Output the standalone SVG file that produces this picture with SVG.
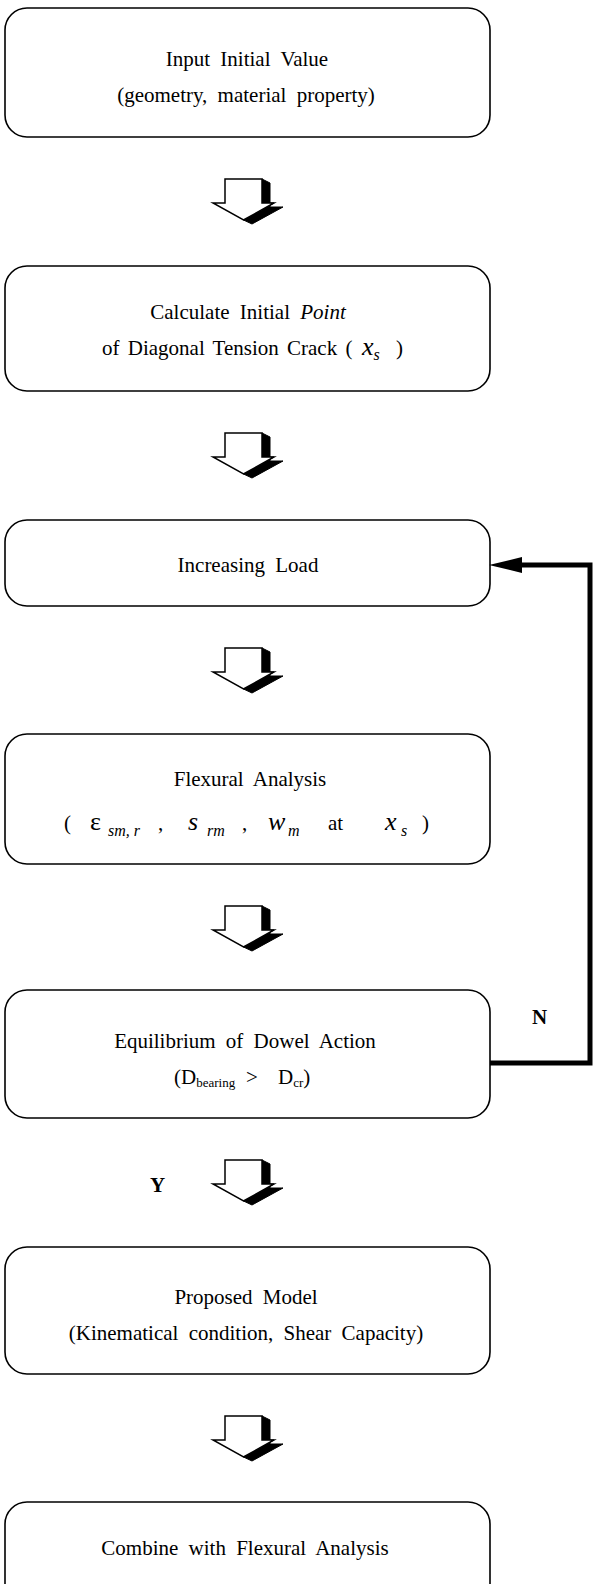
<svg xmlns="http://www.w3.org/2000/svg" width="595" height="1584" viewBox="0 0 595 1584">
<style>
.box{fill:#fff;stroke:#000;stroke-width:1.6}
.t{font-family:"Liberation Serif","Times New Roman",serif;font-size:21px;fill:#000;text-anchor:middle;word-spacing:5px}
.m{font-family:"Liberation Serif","Times New Roman",serif;font-size:21px;fill:#000}
.i{font-style:italic}
.b{font-weight:bold;font-family:"Liberation Serif","Times New Roman",serif;font-size:21px;fill:#000}
.face{fill:#fff;stroke:#000;stroke-width:1.5;stroke-linejoin:miter}
.shade{fill:#000;stroke:#000;stroke-width:1}
.link{fill:none;stroke:#000;stroke-width:5}
</style>
<defs>
<g id="blk">
<polygon class="shade" points="262,179 270,183 270,207 283,207 252,224 243.5,220 274,203 262,203"/>
<polygon class="face" points="225,179 262,179 262,203 274,203 243.5,220 213,203 225,203"/>
</g>
</defs>

<g id="n1">
<rect class="box" x="5" y="8" width="485" height="129" rx="22"/>
<text class="t" x="247" y="66">Input Initial Value</text>
<text class="t" x="246" y="102" word-spacing="3">(geometry, material property)</text>
</g>

<g id="n2">
<rect class="box" x="5" y="266" width="485" height="125" rx="22"/>
<text class="t" x="248" y="319">Calculate Initial <tspan class="i">Point</tspan></text>
<text class="m" x="102" y="355" word-spacing="3">of Diagonal Tension Crack (<tspan class="i" font-size="26" x="362">x</tspan><tspan class="i" font-size="16" dy="5">s</tspan><tspan x="396" dy="-5">)</tspan></text>
</g>

<g id="n3">
<rect class="box" x="5" y="520" width="485" height="86" rx="22"/>
<text class="t" x="248" y="572" word-spacing="12">Increasing Load</text>
</g>

<g id="n4">
<rect class="box" x="5" y="734" width="485" height="130" rx="22"/>
<text class="t" x="250" y="786">Flexural Analysis</text>
<text class="m" y="830"><tspan x="64">(</tspan><tspan x="90" font-size="26">ε</tspan><tspan class="i" x="108" dy="6" font-size="16">sm, r</tspan><tspan x="158" dy="-6">,</tspan><tspan class="i" x="188" font-size="26">s</tspan><tspan class="i" x="207" dy="6" font-size="16">rm</tspan><tspan x="242" dy="-6">,</tspan><tspan class="i" x="268" font-size="26">w</tspan><tspan class="i" x="288" dy="6" font-size="16">m</tspan><tspan x="328" dy="-6">at</tspan><tspan class="i" x="385" font-size="26">x</tspan><tspan class="i" x="401" dy="6" font-size="16">s</tspan><tspan x="422" dy="-6">)</tspan></text>
</g>

<g id="n5">
<rect class="box" x="5" y="990" width="485" height="128" rx="22"/>
<text class="t" x="245" y="1048" word-spacing="8">Equilibrium of Dowel Action</text>
<text class="m" x="174" y="1084" font-size="19">(D<tspan font-size="13" dy="3">bearing</tspan><tspan dy="-3" x="246">&gt;</tspan><tspan x="278">D</tspan><tspan font-size="13" dy="3">cr</tspan><tspan dy="-3">)</tspan></text>
</g>

<g id="n6">
<rect class="box" x="5" y="1247" width="485" height="127" rx="22"/>
<text class="t" x="246" y="1304">Proposed Model</text>
<text class="t" x="246" y="1340" word-spacing="4">(Kinematical condition, Shear Capacity)</text>
</g>

<g id="n7">
<rect class="box" x="5" y="1502" width="485" height="110" rx="22"/>
<text class="t" x="245" y="1555" word-spacing="8">Combine with Flexural Analysis</text>
</g>

<g id="connectors">
<use href="#blk"/>
<use href="#blk" y="254"/>
<use href="#blk" y="469"/>
<use href="#blk" y="727"/>
<use href="#blk" y="981"/>
<use href="#blk" y="1237"/>
<polyline class="link" points="490,1063 590,1063 590,565 520,565"/>
<polygon points="489,565 522,557 522,573" fill="#000"/>
<text class="b" x="532" y="1024">N</text>
<text class="b" x="150" y="1192">Y</text>
</g>
</svg>
